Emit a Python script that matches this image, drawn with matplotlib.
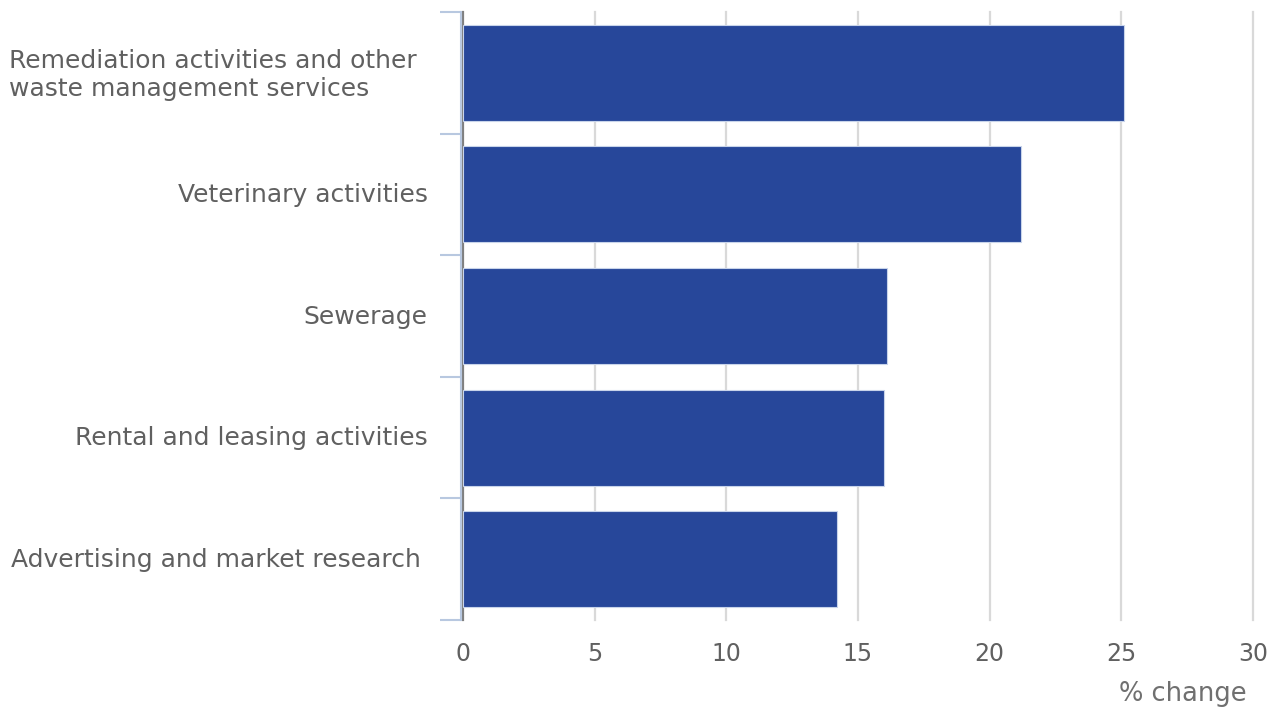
import numpy as np
import matplotlib.pyplot as plt
from matplotlib.transforms import ScaledTranslation

categories = ["Remediation activities and other\nwaste management services",
              "Veterinary activities",
              "Sewerage",
              "Rental and leasing activities",
              "Advertising and market research"]
values = [25.1, 21.2, 16.1, 16.0, 14.2]
xticks = [0, 5, 10, 15, 20, 25, 30]

bar_color = "#27479a"
text_color = "#606060"

fig = plt.figure(figsize=(12.8, 7.11), dpi=100)
ax = fig.add_axes([0.3617, 0.128, 0.6172, 0.855])

y = np.arange(len(categories))
ax.barh(y, values, height=0.79, color=bar_color, edgecolor="#c8d4ea", linewidth=0.8, zorder=3)

ax.set_xlim(0, 30)
ax.set_ylim(len(categories) - 0.5, -0.5)

ax.set_xticks(xticks)
ax.set_xticklabels([str(t) for t in xticks])
ax.set_yticks(y)
ax.set_yticklabels(categories)
ax.set_yticks(np.arange(len(categories) + 1) - 0.5, minor=True)

# vertical gridlines, the zero line darker
for t in xticks:
    ax.axvline(t, color="#808080" if t == 0 else "#d9d9d9", linewidth=1.6,
               zorder=1, clip_on=False)

for s in ["top", "right", "bottom"]:
    ax.spines[s].set_visible(False)
ax.spines["left"].set_color("#b8c8e0")
ax.spines["left"].set_linewidth(1.5)
ax.spines["left"].set_position(("outward", 1.5))

ax.tick_params(axis="x", length=0, pad=16, labelsize=17, labelcolor=text_color)
ax.tick_params(axis="y", which="major", length=0, pad=24, labelsize=18, labelcolor=text_color)
ax.tick_params(axis="y", which="minor", length=15, width=1.5, color="#b8c8e0")

# nudge a couple of labels left, keep the two-line one left aligned
shifts = [-11, 0, 0, 0, -7]
for lab, dx in zip(ax.get_yticklabels(), shifts):
    lab.set_multialignment("left")
    lab.set_transform(lab.get_transform() + ScaledTranslation(dx / 100, 2 / 100, fig.dpi_scale_trans))

ax.set_xlabel("% change", fontsize=18.5, color="#707070")
ax.xaxis.set_label_coords(0.992, -0.1)
ax.xaxis.label.set_horizontalalignment("right")

fig.savefig("out.png", dpi=100)
